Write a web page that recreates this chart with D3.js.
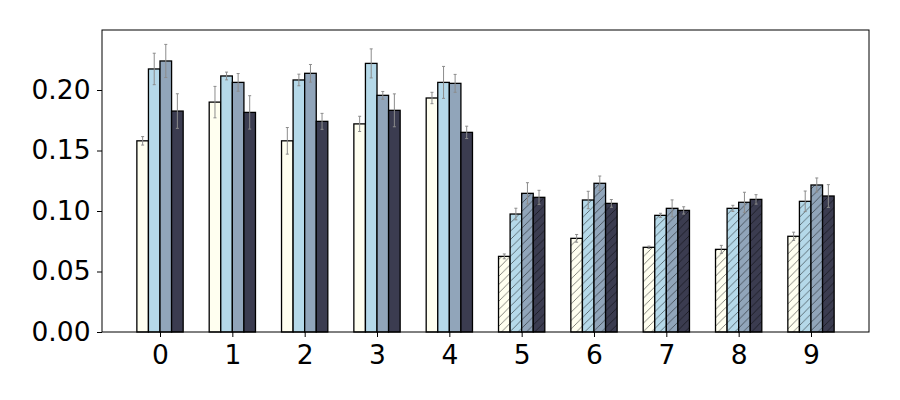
<!DOCTYPE html>
<html><head><meta charset="utf-8">
<script src="https://cdn.jsdelivr.net/npm/d3@7"></script>
<style>body{margin:0;background:#fff}svg{display:block}</style>
</head><body>
<script>
const categories = ["0","1","2","3","4","5","6","7","8","9"];
const seriesNames = ["A","B","C","D"];
const seriesA = [0.158,0.190,0.158,0.172,0.1934,0.0625,0.0774,0.070,0.0683,0.0791];
const seriesB = [0.2174,0.2116,0.2083,0.222,0.2063,0.0975,0.1091,0.0964,0.1022,0.108];
const seriesC = [0.224,0.2063,0.2138,0.1956,0.2055,0.1146,0.1229,0.1022,0.1072,0.1215];
const seriesD = [0.1826,0.1815,0.1741,0.1832,0.165,0.1113,0.1063,0.1005,0.1096,0.1124];
const errA = [0.0035,0.013,0.011,0.0063,0.0047,0.002,0.0032,0.001,0.0033,0.0034];
const errB = [0.013,0.0032,0.0048,0.012,0.0132,0.0048,0.0072,0.0017,0.0025,0.0085];
const errC = [0.0137,0.0073,0.0073,0.0032,0.0074,0.0088,0.006,0.007,0.0083,0.0058];
const errD = [0.0143,0.0138,0.0066,0.0136,0.0051,0.0058,0.0032,0.003,0.0039,0.0094];
const hatched = [false,false,false,false,false,true,true,true,true,true];
const colors = ["#fffff0","#b5d9e9","#91a5ba","#3b3c50"];
const yTicks = [0,0.05,0.10,0.15,0.20];

const W=900,H=400;
const m={l:102,r:869,t:30,b:332};
const svg=d3.select("body").append("svg").attr("width",W).attr("height",H);
const defs=svg.append("defs");
const hp=8.3333;
defs.append("pattern").attr("id","hatch").attr("patternUnits","userSpaceOnUse")
  .attr("width",hp).attr("height",hp)
  .append("path").attr("d",`M${-hp},${hp} L${hp},${-hp} M0,${2*hp} L${2*hp},0 M${-hp},${2*hp} L${2*hp},${-hp}`)
  .attr("stroke","#000").attr("stroke-width",0.8).attr("fill","none").attr("opacity",0.6);

const x=d3.scaleLinear().domain([-0.802,9.802]).range([m.l,m.r]);
const y=d3.scaleLinear().domain([0,0.2496]).range([m.b,m.t]);
const bw=0.16;
const series=[seriesA,seriesB,seriesC,seriesD];
const errs=[errA,errB,errC,errD];

const g=svg.append("g");
series.forEach((vals,si)=>{
  const off=(si-1.5)*bw;
  vals.forEach((v,ci)=>{
    const x0=x(ci+off-bw/2), x1=x(ci+off+bw/2);
    g.append("rect").attr("x",x0).attr("y",y(v)).attr("width",x1-x0).attr("height",y(0)-y(v))
      .attr("fill",colors[si]);
    if(hatched[ci]) g.append("rect").attr("x",x0).attr("y",y(v)).attr("width",x1-x0).attr("height",y(0)-y(v))
      .attr("fill","url(#hatch)");
    g.append("rect").attr("x",x0).attr("y",y(v)).attr("width",x1-x0).attr("height",y(0)-y(v))
      .attr("fill","none").attr("stroke","#000").attr("stroke-width",1.3);
  });
});
series.forEach((vals,si)=>{
  const off=(si-1.5)*bw;
  vals.forEach((v,ci)=>{
    const cx=x(ci+off), e=errs[si][ci];
    const eg=g.append("g").attr("stroke","#8c8c8c").attr("stroke-width",1);
    eg.append("line").attr("x1",cx).attr("x2",cx).attr("y1",y(v-e)).attr("y2",y(v+e));
    [v-e,v+e].forEach(t=>eg.append("line").attr("x1",cx-1.5).attr("x2",cx+1.5).attr("y1",y(t)).attr("y2",y(t)));
  });
});

svg.append("rect").attr("x",m.l).attr("y",m.t).attr("width",m.r-m.l).attr("height",m.b-m.t)
  .attr("fill","none").attr("stroke","#000").attr("stroke-width",1);

const yAxis=d3.axisLeft(y).tickValues(yTicks).tickFormat(d3.format(".2f")).tickSizeOuter(0).tickSize(5).tickPadding(6.5);
const ya=svg.append("g").attr("transform",`translate(${m.l},0)`).call(yAxis);
ya.select(".domain").remove();
const xAxis=d3.axisBottom(x).tickValues(d3.range(10)).tickFormat(i=>categories[i]).tickSizeOuter(0).tickSize(5).tickPadding(8);
const xa=svg.append("g").attr("transform",`translate(0,${m.b})`).call(xAxis);
xa.select(".domain").remove();
svg.selectAll(".tick text").attr("font-family","DejaVu Sans").attr("font-size",26.5).attr("fill","#000");
svg.selectAll(".tick line").attr("stroke","#000").attr("stroke-width",1);
</script>
</body></html>
